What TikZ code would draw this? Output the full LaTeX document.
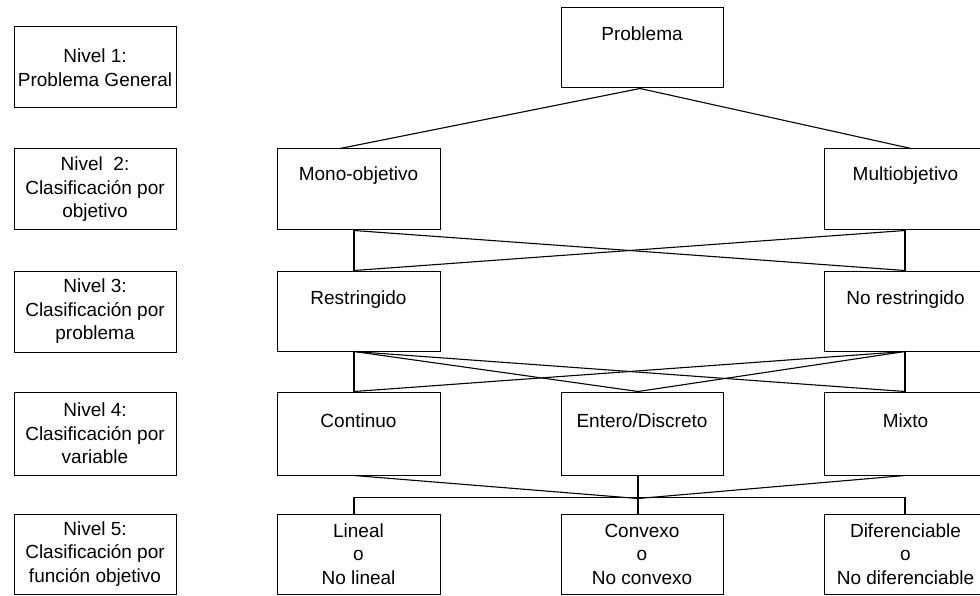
\documentclass[tikz,border=0pt]{standalone}
\usepackage{fontspec}
\setmainfont{Liberation Sans}
\begin{document}
\begin{tikzpicture}[x=1pt,y=-1pt,
  box/.style={draw=black, line width=1pt, rectangle, inner sep=0pt, align=center,
    font=\fontsize{19}{23.5}\selectfont},
  lbl/.style={inner sep=0pt, align=center, font=\fontsize{19}{23.5}\selectfont},
  conn/.style={draw=black, line width=1.1pt}]
\useasboundingbox (0,0) rectangle (980,596);
\clip (0,0) rectangle (980,596);
% left level column
\node[box, minimum width=162pt, minimum height=81pt] (n1) at (95,67.5) {Nivel 1:\\Problema General};
\node[box, minimum width=162pt, minimum height=81pt] (n2) at (95,189.5) {Nivel\ \ 2:\\Clasificación por\\objetivo};
\node[box, minimum width=162pt, minimum height=81pt] (n3) at (95,311.5) {Nivel 3:\\Clasificación por\\problema};
\node[box, minimum width=162pt, minimum height=83pt] (n4) at (95,433.5) {Nivel 4:\\Clasificación por\\variable};
\node[box, minimum width=162pt, minimum height=80pt] (n5) at (95,554) {Nivel 5:\\Clasificación por\\función objetivo};
% level 1
\node[box, minimum width=162pt, minimum height=80pt] (prob) at (642,48) {};
\node[lbl] (probT) at ([yshift=-26pt]prob.north) {Problema};
% level 2
\node[box, minimum width=163pt, minimum height=81pt] (mono) at (358.5,189.5) {};
\node[lbl] (monoT) at ([yshift=-27pt]mono.north) {Mono-objetivo};
\node[box, minimum width=163pt, minimum height=81pt] (multi) at (905.5,189.5) {};
\node[lbl] (multiT) at ([yshift=-27pt]multi.north) {Multiobjetivo};
% level 3
\node[box, minimum width=163pt, minimum height=80pt] (restr) at (358.5,311) {};
\node[lbl] (restrT) at ([yshift=-29pt]restr.north) {Restringido};
\node[box, minimum width=163pt, minimum height=80pt] (norestr) at (905.5,311) {};
\node[lbl] (norestrT) at ([yshift=-29pt]norestr.north) {No restringido};
% level 4
\node[box, minimum width=163pt, minimum height=83pt] (cont) at (358.5,433.5) {};
\node[lbl] (contT) at ([yshift=-29pt]cont.north) {Continuo};
\node[box, minimum width=162pt, minimum height=83pt] (entero) at (642,433.5) {};
\node[lbl] (enteroT) at ([yshift=-29pt]entero.north) {Entero/Discreto};
\node[box, minimum width=163pt, minimum height=83pt] (mixto) at (905.5,433.5) {};
\node[lbl] (mixtoT) at ([yshift=-29pt]mixto.north) {Mixto};
% level 5
\node[box, minimum width=163pt, minimum height=80pt] (lineal) at (358.5,554) {Lineal\\o\\No lineal};
\node[box, minimum width=162pt, minimum height=80pt] (convexo) at (642,554) {Convexo\\o\\No convexo};
\node[box, minimum width=163pt, minimum height=80pt] (difer) at (905.5,554) {Diferenciable\\o\\No diferenciable};
% connectors level 1 -> 2
\draw[conn] ([xshift=-2pt]prob.south) -- ([xshift=-18.5pt]mono.north);
\draw[conn] ([xshift=-2pt]prob.south) -- ([xshift=5.5pt]multi.north);
% level 2 -> 3
\draw[conn] ([xshift=-4.5pt]mono.south) -- ([xshift=-4.5pt]restr.north);
\draw[conn] ([xshift=-0.5pt]multi.south) -- ([xshift=-0.5pt]norestr.north);
\draw[conn] ([xshift=-4.5pt]mono.south) -- ([xshift=-0.5pt]norestr.north);
\draw[conn] ([xshift=-0.5pt]multi.south) -- ([xshift=-4.5pt]restr.north);
% level 3 -> 4
\draw[conn] ([xshift=-4.5pt]restr.south) -- ([xshift=-4.5pt]cont.north);
\draw[conn] ([xshift=-4.5pt]restr.south) -- ([xshift=-4pt]entero.north);
\draw[conn] ([xshift=-4.5pt]restr.south) -- ([xshift=-0.5pt]mixto.north);
\draw[conn] ([xshift=-0.5pt]norestr.south) -- ([xshift=-0.5pt]mixto.north);
\draw[conn] ([xshift=-0.5pt]norestr.south) -- ([xshift=-4pt]entero.north);
\draw[conn] ([xshift=-0.5pt]norestr.south) -- ([xshift=-4.5pt]cont.north);
% level 4 -> 5
\coordinate (hub) at ([xshift=-4pt,yshift=-23pt]entero.south);
\draw[conn] ([xshift=-4.5pt]lineal.north) -- ++(0,-16) -| ([xshift=-0.5pt]difer.north);
\draw[conn] ([xshift=-4pt]entero.south) -- ([xshift=-4pt]convexo.north);
\draw[conn] ([xshift=-4.5pt]cont.south) -- (hub);
\draw[conn] ([xshift=-0.5pt]mixto.south) -- (hub);
\end{tikzpicture}
\end{document}
